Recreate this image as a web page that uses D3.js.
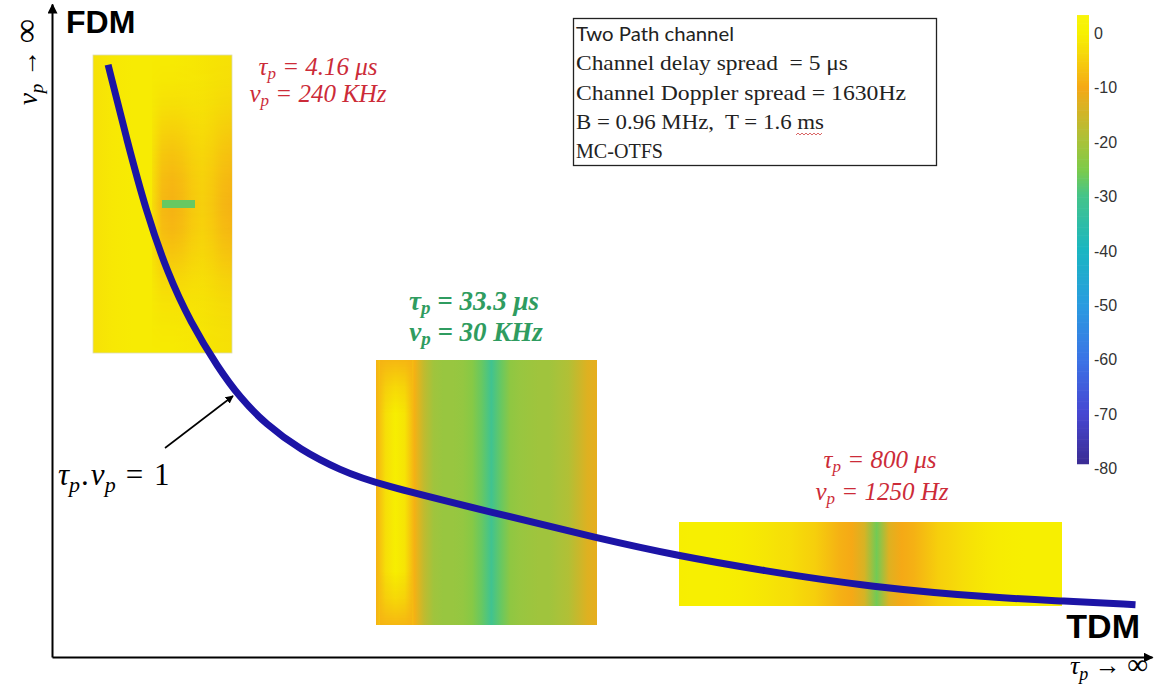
<!DOCTYPE html>
<html>
<head>
<meta charset="utf-8">
<script src="https://cdn.jsdelivr.net/npm/d3@7"></script>
<style>
  body { margin: 0; background: #fff; }
  svg { display: block; }
  text { white-space: pre; }
</style>
</head>
<body>
<div id="chart"></div>
<script>
// --- data ---

// tau_p . nu_p = 1 curve (arbitrary units, 0-100 on both axes)
const curveTau = [5.1, 6.8, 8.6, 10.5, 12.6, 15.1, 17.1, 19.4, 22.6, 26.2, 29.5, 40.1, 49.6, 56.9, 64.4, 74.4, 86.2, 91.8, 98.5];
const curveNu  = [90.7, 79.2, 68.0, 58.8, 51.2, 44.3, 39.7, 35.7, 31.7, 28.6, 26.5, 22.1, 18.2, 15.5, 13.3, 10.7, 9.0, 8.6, 8.0];

// colorbar ticks (dB)
const dbTicks = [0, -10, -20, -30, -40, -50, -60, -70, -80];

// FDM inset: base columns, orange band columns, band strength by row, green spot
const fdmBaseDb  = [-2.5, -1.5, -1, -1, -1, -1.5, -2, -2.5];
const fdmBandDb  = [-3, -8, -9, -8, -6, -5, -6, -8, -9];
const fdmBandRows = [0, 0.05, 0.2, 0.45, 0.7, 0.9, 1, 0.9, 0.65, 0.35, 0.15, 0.05, 0];
const fdmSpotDb  = -27;

// middle inset (tau_p = 33.3 us), one value per column
const midDb = [-9, -3, -0.5, -2, -9, -17, -21, -22, -22, -22.5, -24, -27, -31, -27, -23, -22, -21.5, -21, -21, -20, -19, -16, -13, -12];
// the yellow stripe turns orange at its top and bottom ends
const midStripeDb = -9;
const midStripeRows = [0.9, 0.35, 0, 0, 0, 0, 0, 0, 0, 0.35, 0.9];

// TDM inset (tau_p = 800 us), one value per column
const tdmDb = [-0.5, -0.3, -0.3, -0.3, -0.5, -0.8, -1.2, -1.8, -2.5, -3, -4, -5, -7, -9, -10, -14, -26, -13, -10, -9, -7, -5, -4, -3, -2, -1.2, -0.8, -0.4, -0.3, -0.3, -0.3, -0.3];

const legendLines = [
  "Two Path channel",
  "Channel delay spread  = 5 \u03bcs",
  "Channel Doppler spread = 1630Hz",
  "B = 0.96 MHz,  T = 1.6 ms",
  "MC-OTFS"
];

// --- layout ---
const width = 1170, height = 686;

const svg = d3.select("#chart")
  .append("svg")
  .attr("width", width)
  .attr("height", height);

const defs = svg.append("defs");

const x = d3.scaleLinear().domain([0, 100]).range([52, 1152]);
const y = d3.scaleLinear().domain([0, 100]).range([657, 4]);

// colormap (colorbar from -80 to 0 dB)
const color = d3.scaleLinear()
  .domain([3, 0, -3, -10, -20, -25, -30, -40, -50, -60, -70, -80])
  .range(["#f8f40a", "#f7f100", "#f6de08", "#f5a916", "#a9c23a", "#7ecb48", "#44c48a", "#1ab6c2", "#2a9ce0", "#3b74e6", "#4747d2", "#3a2a8e"])
  .clamp(true);

// arrow head marker
defs.append("marker")
  .attr("id", "arrow")
  .attr("viewBox", "0 0 10 10")
  .attr("refX", 9)
  .attr("refY", 5)
  .attr("markerWidth", 5)
  .attr("markerHeight", 5)
  .attr("orient", "auto")
  .append("path")
  .attr("d", "M0,0L10,5L0,10z")
  .attr("fill", "#000");

// horizontal gradient from a list of dB values
function hGradient(id, values) {
  const pos = d3.scaleLinear().domain([0, values.length - 1]).range([0, 1]);
  defs.append("linearGradient")
    .attr("id", id)
    .attr("x1", 0).attr("x2", 1).attr("y1", 0).attr("y2", 0)
    .selectAll("stop")
    .data(values)
    .join("stop")
    .attr("offset", (d, i) => pos(i))
    .attr("stop-color", d => color(d));
}

// vertical mask from row weights (0..1)
function rowMask(id, weights, box) {
  const pos = d3.scaleLinear().domain([0, weights.length - 1]).range([0, 1]);
  defs.append("linearGradient")
    .attr("id", id + "Grad")
    .attr("x1", 0).attr("x2", 0).attr("y1", 0).attr("y2", 1)
    .selectAll("stop")
    .data(weights)
    .join("stop")
    .attr("offset", (d, i) => pos(i))
    .attr("stop-color", "#fff")
    .attr("stop-opacity", d => d);

  defs.append("mask")
    .attr("id", id)
    .attr("maskUnits", "userSpaceOnUse")
    .attr("x", box.x).attr("y", box.y)
    .attr("width", box.w).attr("height", box.h)
    .append("rect")
    .attr("x", box.x).attr("y", box.y)
    .attr("width", box.w).attr("height", box.h)
    .attr("fill", `url(#${id}Grad)`);
}

// --- insets ---
const fdmBox = { x: 93, y: 55, w: 139, h: 298 };
const fdmBand = { x: 152, y: 55, w: 80, h: 298 };
const fdmSpot = { x: 162, y: 200, w: 33, h: 8 };
const midBox = { x: 376, y: 360, w: 221, h: 265 };
const midStripe = { x: 380, y: 360, w: 32, h: 265 };
const tdmBox = { x: 679, y: 522, w: 383, h: 84 };

hGradient("fdmBase", fdmBaseDb);
hGradient("fdmBandCols", fdmBandDb);
hGradient("midCols", midDb);
hGradient("tdmCols", tdmDb);
rowMask("fdmMask", fdmBandRows, fdmBand);
rowMask("midMask", midStripeRows, midStripe);

const insets = svg.append("g").attr("class", "insets");

insets.append("rect")
  .attr("x", fdmBox.x).attr("y", fdmBox.y)
  .attr("width", fdmBox.w).attr("height", fdmBox.h)
  .attr("fill", "url(#fdmBase)")
  .attr("stroke", "#dcdcb4")
  .attr("stroke-width", 0.8);

insets.append("rect")
  .attr("x", fdmBand.x).attr("y", fdmBand.y)
  .attr("width", fdmBand.w).attr("height", fdmBand.h)
  .attr("fill", "url(#fdmBandCols)")
  .attr("mask", "url(#fdmMask)");

insets.append("rect")
  .attr("x", fdmSpot.x).attr("y", fdmSpot.y)
  .attr("width", fdmSpot.w).attr("height", fdmSpot.h)
  .attr("fill", color(fdmSpotDb));

insets.append("rect")
  .attr("x", midBox.x).attr("y", midBox.y)
  .attr("width", midBox.w).attr("height", midBox.h)
  .attr("fill", "url(#midCols)");

insets.append("rect")
  .attr("x", midStripe.x).attr("y", midStripe.y)
  .attr("width", midStripe.w).attr("height", midStripe.h)
  .attr("fill", color(midStripeDb))
  .attr("mask", "url(#midMask)");

insets.append("rect")
  .attr("x", tdmBox.x).attr("y", tdmBox.y)
  .attr("width", tdmBox.w).attr("height", tdmBox.h)
  .attr("fill", "url(#tdmCols)");

// --- axes (no ticks, just arrows) ---
const xAxis = svg.append("g")
  .attr("transform", `translate(0,${y(0)})`)
  .call(d3.axisBottom(x).tickValues([]).tickSizeOuter(0));
xAxis.select(".domain")
  .attr("stroke", "#000")
  .attr("stroke-width", 2)
  .attr("marker-end", "url(#arrow)");

const yAxis = svg.append("g")
  .attr("transform", `translate(${x(0)},0)`)
  .call(d3.axisLeft(y).tickValues([]).tickSizeOuter(0));
yAxis.select(".domain")
  .attr("stroke", "#000")
  .attr("stroke-width", 2)
  .attr("marker-end", "url(#arrow)");

// axis labels
const mathFont = "'Liberation Serif', 'DejaVu Serif', serif";

svg.append("text")
  .attr("transform", "translate(37,62) rotate(-90)")
  .attr("text-anchor", "middle")
  .attr("font-family", mathFont)
  .attr("font-size", 27)
  .call(t => {
    t.append("tspan").attr("font-style", "italic").text("\u03bd");
    t.append("tspan").attr("font-style", "italic").attr("font-size", 19).attr("dy", 6).text("p");
    t.append("tspan").attr("dy", -6).text(" \u2192 ");
    t.append("tspan").attr("font-size", 34).text("\u221e");
  });

svg.append("text")
  .attr("x", 1148)
  .attr("y", 674)
  .attr("text-anchor", "end")
  .attr("font-family", mathFont)
  .attr("font-size", 26)
  .call(t => {
    t.append("tspan").attr("font-style", "italic").text("\u03c4");
    t.append("tspan").attr("font-style", "italic").attr("font-size", 18).attr("dy", 6).text("p");
    t.append("tspan").attr("dy", -6).text(" \u2192 ");
    t.append("tspan").attr("font-size", 29).text("\u221e");
  });

svg.append("text")
  .attr("x", 66).attr("y", 33)
  .attr("font-family", "'Liberation Sans', Arial, sans-serif")
  .attr("font-weight", "bold")
  .attr("font-size", 32)
  .text("FDM");

svg.append("text")
  .attr("x", 1140).attr("y", 638)
  .attr("text-anchor", "end")
  .attr("font-family", "'Liberation Sans', Arial, sans-serif")
  .attr("font-weight", "bold")
  .attr("font-size", 34)
  .text("TDM");

// --- the hyperbola ---
const line = d3.line()
  .x(d => x(d[0]))
  .y(d => y(d[1]))
  .curve(d3.curveBasis);

svg.append("path")
  .datum(d3.zip(curveTau, curveNu))
  .attr("d", line)
  .attr("fill", "none")
  .attr("stroke", "#1c14a6")
  .attr("stroke-width", 7);

// pointer to the curve
svg.append("line")
  .attr("x1", 165).attr("y1", 448)
  .attr("x2", 233).attr("y2", 396)
  .attr("stroke", "#000")
  .attr("stroke-width", 1.6)
  .attr("marker-end", "url(#arrow)");

svg.append("text")
  .attr("x", 58).attr("y", 485)
  .attr("font-family", mathFont)
  .attr("font-size", 31)
  .call(t => {
    t.append("tspan").attr("font-style", "italic").text("\u03c4");
    t.append("tspan").attr("font-style", "italic").attr("font-size", 22).attr("dy", 7).text("p");
    t.append("tspan").attr("dy", -7).attr("dx", 1).text(".");
    t.append("tspan").attr("font-style", "italic").attr("dx", 2).text("\u03bd");
    t.append("tspan").attr("font-style", "italic").attr("font-size", 22).attr("dy", 7).text("p");
    t.append("tspan").attr("dy", -7).attr("dx", 10).text("=");
    t.append("tspan").attr("dx", 11).text("1");
  });

// --- inset annotations ---
const notes = [
  { cx: 318, y: 75, sym: "\u03c4", rest: " = 4.16 \u03bcs", fill: "#cc2b38", bold: false },
  { cx: 318, y: 102, sym: "\u03bd", rest: " = 240 KHz", fill: "#cc2b38", bold: false },
  { cx: 474, y: 310, sym: "\u03c4", rest: " = 33.3 \u03bcs", fill: "#2f9c60", bold: true },
  { cx: 476, y: 341, sym: "\u03bd", rest: " = 30 KHz", fill: "#2f9c60", bold: true },
  { cx: 880, y: 468, sym: "\u03c4", rest: " = 800 \u03bcs", fill: "#cc2b38", bold: false },
  { cx: 882, y: 500, sym: "\u03bd", rest: " = 1250 Hz", fill: "#cc2b38", bold: false }
];

svg.append("g")
  .selectAll("text")
  .data(notes)
  .join("text")
  .attr("x", d => d.cx)
  .attr("y", d => d.y)
  .attr("text-anchor", "middle")
  .attr("font-family", mathFont)
  .attr("font-style", "italic")
  .attr("font-size", d => d.bold ? 27 : 25)
  .attr("font-weight", d => d.bold ? "bold" : "normal")
  .attr("fill", d => d.fill)
  .each(function(d) {
    const t = d3.select(this);
    t.append("tspan").text(d.sym);
    t.append("tspan").attr("font-size", d.bold ? 19 : 17).attr("dy", 4).text("p");
    t.append("tspan").attr("dy", -4).text(d.rest);
  });

// --- legend box ---
const legend = svg.append("g");
legend.append("rect")
  .attr("x", 573.5).attr("y", 18.5)
  .attr("width", 363).attr("height", 147)
  .attr("fill", "#fff")
  .attr("stroke", "#222")
  .attr("stroke-width", 1.3);

const lineWidths = [158, 272, 330, 248, 87];
const lineY = d3.scaleLinear().domain([0, 4]).range([41, 158]);

legend.selectAll("text")
  .data(legendLines)
  .join("text")
  .attr("x", 576)
  .attr("y", (d, i) => lineY(i))
  .attr("font-family", (d, i) => i === 0 ? "Lato, 'Open Sans', sans-serif" : mathFont)
  .attr("font-size", (d, i) => i === 0 ? 19 : 21)
  .attr("fill", "#222")
  .attr("textLength", (d, i) => lineWidths[i])
  .attr("lengthAdjust", "spacingAndGlyphs")
  .text(d => d);

// spell-check squiggle under "ms"
legend.append("path")
  .attr("d", "M796,135 l2,-2 l2,2 l2,-2 l2,2 l2,-2 l2,2 l2,-2 l2,2 l2,-2 l2,2 l2,-2 l2,2 l2,-2")
  .attr("fill", "none")
  .attr("stroke", "#d04040")
  .attr("stroke-width", 0.8);

// --- colorbar ---
const cb = d3.scaleLinear().domain([0, -80]).range([33, 468]);
const cbSteps = d3.range(3.3, -78.8, -0.5);

const colorbar = svg.append("g");
colorbar.selectAll("rect")
  .data(cbSteps)
  .join("rect")
  .attr("x", 1077)
  .attr("y", d => cb(d))
  .attr("width", 12)
  .attr("height", cb(-0.5) - cb(0) + 0.6)
  .attr("fill", d => color(d - 0.25));

colorbar.selectAll("text")
  .data(dbTicks)
  .join("text")
  .attr("x", 1094)
  .attr("y", d => cb(d) + 6)
  .attr("font-family", "'Liberation Sans', Arial, sans-serif")
  .attr("font-size", 16)
  .attr("fill", "#333")
  .text(d => d === 0 ? "0" : "-" + Math.abs(d));
</script>
</body>
</html>
